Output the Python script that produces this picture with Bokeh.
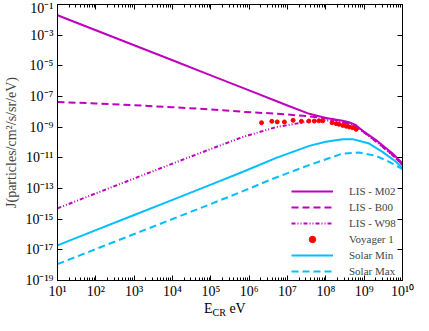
from bokeh.plotting import figure
from bokeh.models import (LogAxis, FixedTicker, CustomJSTickFormatter, Legend,
                          LegendItem, Range1d, Div)
from bokeh.layouts import column
from bokeh.embed import file_html
from bokeh.resources import INLINE

# ---- data ----
E_lis = [1e1, 1e2, 1e3, 1e4, 1e5, 1e6, 1e7, 3.7e7, 1e8, 2.75e8, 4.0e8, 6.0e8, 1e9, 2.0e9, 5.5e9, 1e10]
J_m02 = [2.0e-2, 2.1e-3, 2.2e-4, 2.3e-5, 2.4e-6, 2.5e-7, 2.6e-8, 7.4e-9, 4.0e-9, 2.6e-9, 2.1e-9, 1.4e-9, 4.9e-10, 1.5e-10, 1.9e-11, 4.3e-12]

E_b00 = [1e1, 1e2, 1e3, 1e4, 1e5, 6.9e5, 5.1e6, 3.7e7, 1e8, 2.75e8, 4.0e8, 6.0e8, 1e9, 2.0e9, 5.5e9, 1e10]
J_b00 = [4.4e-8, 3.5e-8, 2.7e-8, 2.0e-8, 1.45e-8, 1.0e-8, 7.6e-9, 5.1e-9, 3.8e-9, 2.4e-9, 1.66e-9, 1.12e-9, 4.7e-10, 1.26e-10, 1.6e-11, 3.5e-12]

E_w98 = [1e1, 1e2, 1e3, 1e4, 1e5, 6.9e5, 5.1e6, 3.7e7, 1e8, 2.75e8, 4.0e8, 6.0e8, 1e9, 2.0e9, 5.5e9, 1e10]
J_w98 = [5.1e-15, 4.8e-14, 4.5e-13, 4.2e-12, 3.8e-11, 2.3e-10, 1.02e-9, 2.4e-9, 2.8e-9, 2.1e-9, 1.6e-9, 1.07e-9, 4.5e-10, 1.2e-10, 1.48e-11, 3.4e-12]

E_voy = [2.1e6, 3.9e6, 5.4e6, 8.3e6, 1.4e7, 2.3e7, 3.6e7, 5.0e7, 6.6e7, 8.3e7,
         1.45e8, 1.86e8, 2.2e8, 2.75e8, 3.4e8, 4.1e8, 5.0e8, 6.2e8]
J_voy = [1.95e-9, 2.4e-9, 2.2e-9, 2.2e-9, 2.8e-9, 2.4e-9, 2.5e-9, 2.5e-9, 2.6e-9, 2.6e-9,
         1.95e-9, 1.7e-9, 1.55e-9, 1.3e-9, 1.15e-9, 1.02e-9, 9.3e-10, 7.2e-10]

E_smin = [1e1, 1e2, 1e3, 1e4, 1e5, 6.9e5, 5.1e6, 3.7e7, 1e8, 2.75e8, 5.0e8, 1.35e9, 3.0e9, 6.8e9, 1e10]
J_smin = [1.95e-17, 1.91e-16, 1.86e-15, 1.82e-14, 1.78e-13, 1.23e-12, 1.0e-11, 6.0e-11, 1.12e-10, 1.62e-10, 1.66e-10, 8.5e-11, 2.45e-11, 5.5e-12, 2.04e-12]

E_smax = [1e1, 1e2, 1e3, 1e4, 1e5, 1.05e6, 3.4e6, 3.7e7, 2.75e8, 7.4e8, 2.0e9, 4.5e9, 1e10]
J_smax = [1.17e-18, 1.12e-17, 1.07e-16, 1.02e-15, 9.8e-15, 1.02e-13, 3.55e-13, 3.4e-12, 1.9e-11, 2.24e-11, 1.35e-11, 5.5e-12, 1.82e-12]

x_major = [1e1, 1e2, 1e3, 1e4, 1e5, 1e6, 1e7, 1e8, 1e9, 1e10]
x_minor = [k * 10.0 ** n for n in range(1, 10) for k in range(2, 10)]
y_major = [1e-19, 1e-17, 1e-15, 1e-13, 1e-11, 1e-9, 1e-7, 1e-5, 1e-3, 1e-1]

MAG = "#bf00bf"
CYAN = "#00bfff"
RED = "#ff0000"
FONT = "Liberation Serif"

p = figure(width=421, height=301, x_axis_type="log", y_axis_type="log",
           x_range=Range1d(1e1, 1e10), y_range=Range1d(1e-19, 1e-1),
           output_backend="svg", toolbar_location=None,
           min_border_left=57, min_border_right=19, min_border_top=4, min_border_bottom=20)
p.outline_line_color = "black"
p.outline_line_width = 1
p.xgrid.visible = False
p.ygrid.visible = False
p.background_fill_color = "white"
p.border_fill_color = "white"

sup_js = """
const s = {"0":"\u2070","1":"\u00b9","2":"\u00b2","3":"\u00b3","4":"\u2074","5":"\u2075",
           "6":"\u2076","7":"\u2077","8":"\u2078","9":"\u2079","-":"\u207b"};
const e = Math.round(Math.log10(tick));
return "10" + String(e).split("").map(c => s[c]).join("");
"""
fmt = CustomJSTickFormatter(code=sup_js)
blank = CustomJSTickFormatter(code='return "";')

xt = FixedTicker(ticks=x_major, minor_ticks=x_minor)
yt = FixedTicker(ticks=y_major, minor_ticks=[])

def style(ax, ticker, formatter, labels=True):
    ax.ticker = ticker
    ax.formatter = formatter
    ax.major_tick_in = 5
    ax.major_tick_out = 0
    ax.minor_tick_in = 3
    ax.minor_tick_out = 0
    ax.axis_line_color = "black"
    ax.major_tick_line_color = "black"
    ax.minor_tick_line_color = "black"
    ax.major_label_text_font = FONT
    ax.major_label_text_font_size = "14px" if labels else "0px"
    ax.major_label_text_color = "black"
    ax.major_label_standoff = 3 if labels else 0

style(p.xaxis[0], xt, fmt)
style(p.yaxis[0], yt, fmt)
p.yaxis[0].major_label_standoff = 4
p.yaxis[0].axis_label = "J(particles/cm\u00b2/s/sr/eV)"
p.yaxis[0].axis_label_text_font = FONT
p.yaxis[0].axis_label_text_font_size = "14px"
p.yaxis[0].axis_label_text_font_style = "normal"
p.yaxis[0].axis_label_standoff = 3

top = LogAxis()
style(top, xt, blank, labels=False)
p.add_layout(top, "above")
right = LogAxis()
style(right, yt, blank, labels=False)
p.add_layout(right, "right")

r_m02 = p.line(E_lis, J_m02, line_color=MAG, line_width=2)
r_b00 = p.line(E_b00, J_b00, line_color=MAG, line_width=2, line_dash="7 4")
r_w98 = p.line(E_w98, J_w98, line_color=MAG, line_width=2, line_dash="4 2 1 2 1 2")
r_voy = p.scatter(E_voy, J_voy, size=4, fill_color=RED, line_color=RED)
r_smin = p.line(E_smin, J_smin, line_color=CYAN, line_width=2)
r_smax = p.line(E_smax, J_smax, line_color=CYAN, line_width=2, line_dash="7 4")

legend = Legend(items=[
    LegendItem(label="LIS - M02", renderers=[r_m02]),
    LegendItem(label="LIS - B00", renderers=[r_b00]),
    LegendItem(label="LIS - W98", renderers=[r_w98]),
    LegendItem(label="Voyager 1", renderers=[r_voy]),
    LegendItem(label="Solar Min", renderers=[r_smin]),
    LegendItem(label="Solar Max", renderers=[r_smax]),
], location=(234, 1), padding=0, margin=0, spacing=0, label_height=16,
   glyph_height=16, glyph_width=42, label_standoff=16,
   background_fill_alpha=0, border_line_alpha=0,
   label_text_font=FONT, label_text_font_size="11px")
p.add_layout(legend)

# x axis label: E_CR eV (below the figure)
xlabel = Div(
    text=('<div style="padding-left:204px; font-family:\'Liberation Serif\', serif; '
          'font-size:14px; line-height:14px; white-space:nowrap; color:black;">'
          'E<span style="font-size:10px; position:relative; top:3px;">CR</span> eV</div>'),
    width=421, height=14, margin=0)

layout = column(p, xlabel, spacing=0)
open("out.html", "w").write(file_html(layout, INLINE))
